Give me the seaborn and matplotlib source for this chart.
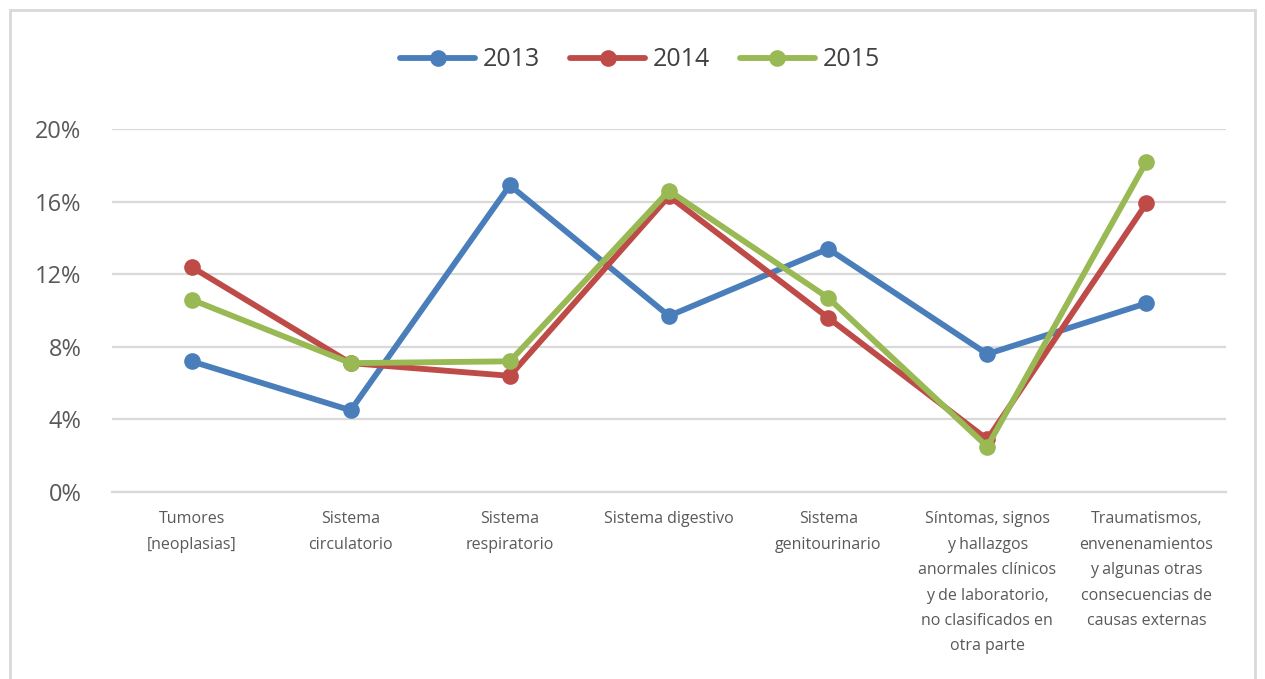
import matplotlib
matplotlib.use("Agg")
import matplotlib.pyplot as plt
import seaborn as sns
import pandas as pd
import numpy as np
from matplotlib.patches import Rectangle
from matplotlib.ticker import FuncFormatter
from matplotlib.lines import Line2D

categories = [
    "Tumores\n[neoplasias]",
    "Sistema\ncirculatorio",
    "Sistema\nrespiratorio",
    "Sistema digestivo",
    "Sistema\ngenitourinario",
    "Síntomas, signos\ny hallazgos\nanormales clínicos\ny de laboratorio,\nno clasificados en\notra parte",
    "Traumatismos,\nenvenenamientos\ny algunas otras\nconsecuencias de\ncausas externas",
]
years = ["2013", "2014", "2015"]
v2013 = [0.072, 0.045, 0.169, 0.097, 0.134, 0.076, 0.104]
v2014 = [0.124, 0.071, 0.064, 0.163, 0.096, 0.029, 0.159]
v2015 = [0.106, 0.071, 0.072, 0.166, 0.107, 0.025, 0.182]
colors = ["#4A7EBB", "#BE4B48", "#98B954"]

rows = []
for y, vals in zip(years, [v2013, v2014, v2015]):
    for i, v in enumerate(vals):
        rows.append({"idx": i, "value": v, "year": y})
df = pd.DataFrame(rows)

sns.set_theme(style="white")
plt.rcParams["font.family"] = ["Open Sans", "DejaVu Sans"]

fig = plt.figure(figsize=(12.65, 6.79), dpi=100)
fig.patch.set_facecolor("white")
fig.patches.append(Rectangle((10 / 1265, -0.05), 1245 / 1265, 1 - 10 / 679 + 0.05,
                             transform=fig.transFigure, fill=False,
                             edgecolor="#D9D9D9", linewidth=2.0, zorder=0))

ax = fig.add_axes([112 / 1265, 1 - 492 / 679, (1226 - 112) / 1265, (492 - 129) / 679])
sns.lineplot(data=df, x="idx", y="value", hue="year", palette=colors,
             marker="o", markersize=12, markeredgewidth=0, linewidth=4.2,
             sort=False, ax=ax, legend=False)

ax.set_xlim(-0.5, 6.5)
ax.set_ylim(0, 0.20)
ax.set_yticks([0, 0.04, 0.08, 0.12, 0.16, 0.20])
ax.yaxis.set_major_formatter(FuncFormatter(lambda v, p: f"{v*100:.0f}%"))
ax.set_xticks(range(len(categories)))
ax.set_xticklabels(categories, fontsize=11.5, color="#595959", linespacing=1.78, va="top")
ax.tick_params(axis="y", labelsize=17, colors="#595959", length=0, pad=22)
ax.tick_params(axis="x", length=0, pad=14)
ax.grid(axis="y", color="#D9D9D9", linewidth=1.6)
ax.set_axisbelow(True)
for s in ["top", "right", "left"]:
    ax.spines[s].set_visible(False)
ax.spines["bottom"].set_color("#D9D9D9")
ax.spines["bottom"].set_linewidth(1.6)
ax.set_xlabel("")
ax.set_ylabel("")

handles = [Line2D([0], [0], color=c, lw=4.2, marker="o", markersize=12, markeredgewidth=0) for c in colors]
fig.legend(handles, years, loc="center", bbox_to_anchor=(640 / 1265, 1 - 60 / 679), ncol=3,
           frameon=False, fontsize=18, handlelength=3.0, columnspacing=1.2, handletextpad=0.3,
           labelcolor="#404040")

fig.savefig("out.png", dpi=100, facecolor="white")
